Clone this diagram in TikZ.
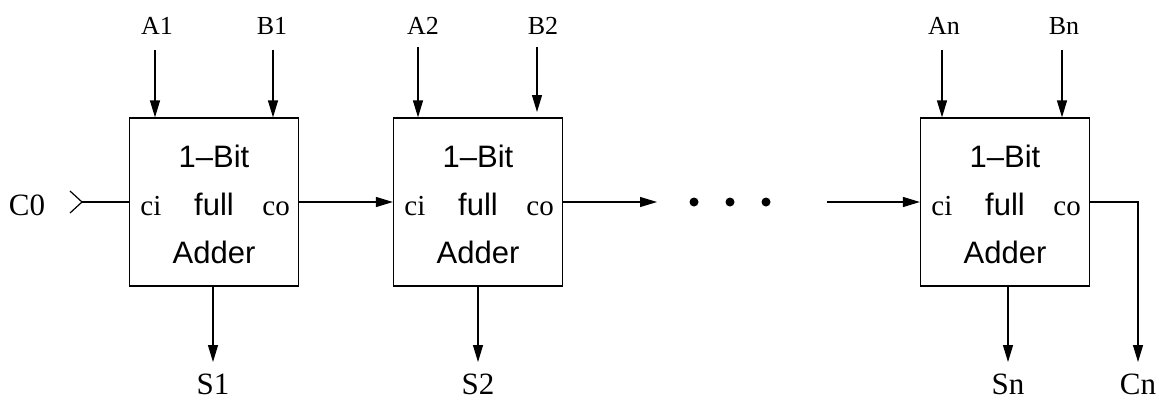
\documentclass[tikz,border=0pt]{standalone}
\usepackage{fontspec}
\setmainfont{Liberation Serif}
\setsansfont{Liberation Sans}
\usetikzlibrary{arrows.meta}

\begin{document}
\begin{tikzpicture}[x=1pt, y=-1pt, line width=1.2pt, >={Triangle[length=17pt, width=10pt]}]
	\tikzstyle{adder} = [draw, minimum width=169pt, minimum height=168pt, inner sep=0pt]
	\tikzstyle{inside} = [font=\sffamily\fontsize{31}{36}\selectfont, anchor=base, inner sep=0pt]
	\tikzstyle{port} = [font=\fontsize{29}{32}\selectfont, anchor=base, inner sep=0pt]
	\tikzstyle{io} = [font=\fontsize{31}{36}\selectfont, anchor=base, inner sep=0pt]
	\tikzstyle{operand} = [font=\fontsize{26}{30}\selectfont, anchor=base, inner sep=0pt]
	\tikzstyle{dot} = [circle, fill, minimum size=9pt, inner sep=0pt]
	\useasboundingbox (0,0) rectangle (1159,400);
	% the three adders
	\node[adder] (box1) at (214,202) {};
	\node[adder] (box2) at (478,202) {};
	\node[adder] (box3) at (1005,202) {};
	\node[inside] (bit1) at ([shift={(0,-35)}]box1.center) {1–Bit};
	\node[inside] (full1) at ([shift={(0,13)}]box1.center) {full};
	\node[inside] (add1) at ([shift={(0,61)}]box1.center) {Adder};
	\node[port] (ci1) at ([shift={(22,13)}]box1.west) {ci};
	\node[port] (co1) at ([shift={(-23,13)}]box1.east) {co};
	\node[inside] (bit2) at ([shift={(0,-35)}]box2.center) {1–Bit};
	\node[inside] (full2) at ([shift={(0,13)}]box2.center) {full};
	\node[inside] (add2) at ([shift={(0,61)}]box2.center) {Adder};
	\node[port] (ci2) at ([shift={(22,13)}]box2.west) {ci};
	\node[port] (co2) at ([shift={(-23,13)}]box2.east) {co};
	\node[inside] (bit3) at ([shift={(0,-35)}]box3.center) {1–Bit};
	\node[inside] (full3) at ([shift={(0,13)}]box3.center) {full};
	\node[inside] (add3) at ([shift={(0,61)}]box3.center) {Adder};
	\node[port] (ci3) at ([shift={(22,13)}]box3.west) {ci};
	\node[port] (co3) at ([shift={(-23,13)}]box3.east) {co};
	% operands
	\node[operand] (la1) at (157,34) {A1};
	\node[operand] (lb1) at (272,34) {B1};
	\node[operand] (la2) at (423,34) {A2};
	\node[operand] (lb2) at (543,34) {B2};
	\node[operand] (lan) at (944,34) {An};
	\node[operand] (lbn) at (1064,34) {Bn};
	\coordinate (a1) at (155,50);
	\coordinate (b1) at (273,50);
	\coordinate (a2) at (418,47);
	\coordinate (b2) at (537,47);
	\coordinate (b2end) at (537,112);
	\coordinate (an) at (942,50);
	\coordinate (bn) at (1062,50);
	\draw[->] (a1) -- (a1 |- box1.north);
	\draw[->] (b1) -- (b1 |- box1.north);
	\draw[->] (a2) -- (a2 |- box2.north);
	\draw[->] (b2) -- (b2end);
	\draw[->] (an) -- (an |- box3.north);
	\draw[->] (bn) -- (bn |- box3.north);
	% sums
	\coordinate (s1) at (213,362);
	\coordinate (s2) at (478,362);
	\coordinate (sn) at (1008,362);
	\draw[->] (s1 |- box1.south) -- (s1);
	\draw[->] (s2 |- box2.south) -- (s2);
	\draw[->] (sn |- box3.south) -- (sn);
	\node[io] (ls1) at (213,394) {S1};
	\node[io] (ls2) at (478,394) {S2};
	\node[io] (lsn) at (1008,394) {Sn};
	% carry chain
	\node[io] (lc0) at (27,215) {C0};
	\coordinate (c0) at (82,202);
	\draw (c0) -- (box1.west);
	\draw (70,191) -- (c0) -- (70,213);
	\draw[->] (box1.east) -- (box2.west);
	\coordinate (dotsin) at (657,202);
	\coordinate (dotsout) at (827,202);
	\draw[->] (box2.east) -- (dotsin);
	\node[dot] (d1) at (694,202) {};
	\node[dot] (d2) at (730,202) {};
	\node[dot] (d3) at (766,202) {};
	\draw[->] (dotsout) -- (box3.west);
	\coordinate (cn) at (1138,362);
	\draw[->] (box3.east) -| (cn);
	\node[io] (lcn) at (1138,394) {Cn};
\end{tikzpicture}
\end{document}
